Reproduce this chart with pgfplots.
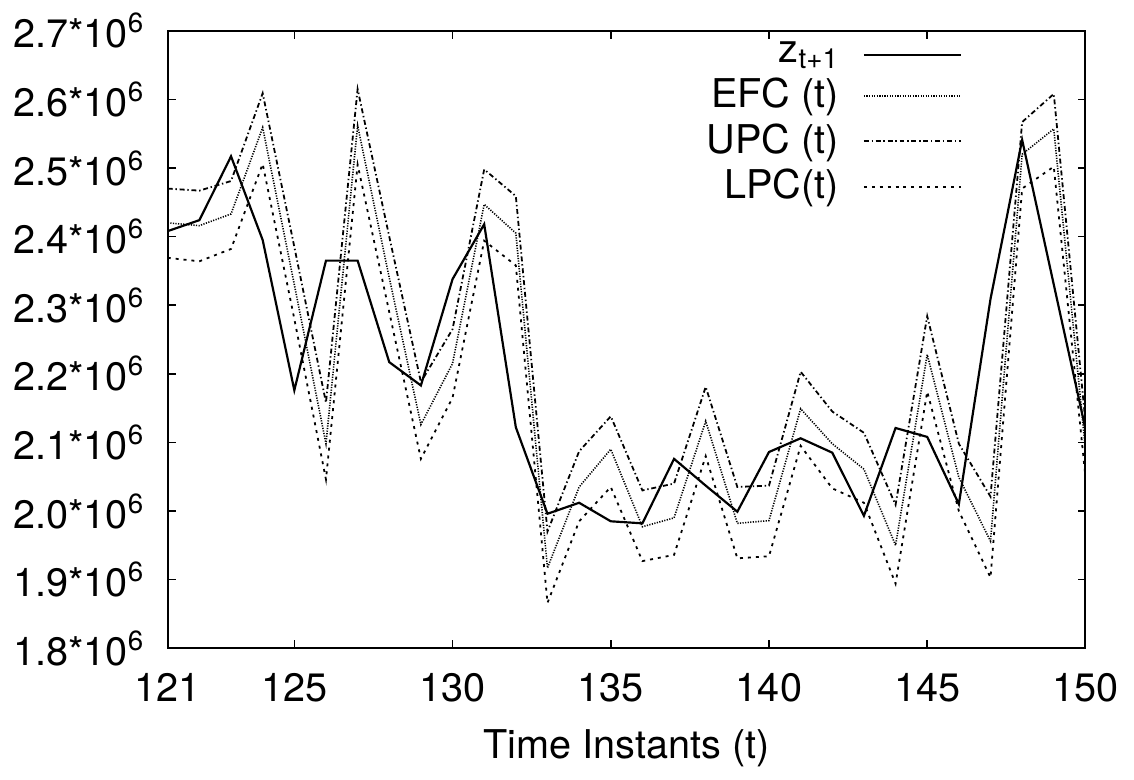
\documentclass[border=0pt]{standalone}
\usepackage{fontspec}
\setmainfont{TeX Gyre Heros}
\usepackage{pgfplots}
\pgfplotsset{compat=1.18}

% values in units of 10^6
\pgfplotstableread{
t    z      efc    upc    lpc
121  2.408  2.420  2.470  2.369
122  2.424  2.416  2.467  2.364
123  2.517  2.433  2.481  2.382
124  2.395  2.559  2.609  2.506
125  2.176  2.330  2.385  2.280
126  2.365  2.098  2.158  2.046
127  2.365  2.562  2.615  2.505
128  2.217  2.340  2.400  2.290
129  2.183  2.126  2.188  2.076
130  2.338  2.215  2.265  2.165
131  2.418  2.447  2.498  2.394
132  2.122  2.405  2.459  2.358
133  1.996  1.917  1.970  1.866
134  2.012  2.035  2.087  1.985
135  1.985  2.090  2.138  2.035
136  1.982  1.977  2.030  1.927
137  2.076  1.990  2.040  1.936
138  2.037  2.131  2.181  2.080
139  1.999  1.982  2.035  1.931
140  2.086  1.986  2.037  1.934
141  2.106  2.149  2.203  2.095
142  2.085  2.098  2.145  2.033
143  1.993  2.061  2.114  2.012
144  2.121  1.950  2.009  1.894
145  2.108  2.228  2.284  2.174
146  2.010  2.049  2.098  2.000
147  2.309  1.956  2.021  1.903
148  2.541  2.520  2.567  2.470
149  2.330  2.557  2.608  2.502
150  2.120  2.090  2.130  2.050
}\data

\begin{document}
\fontsize{20}{24}\selectfont
\begin{tikzpicture}
\begin{axis}[
  scale only axis,
  width=463pt, height=311.5pt,
  xmin=121, xmax=150, ymin=1.8, ymax=2.7,
  xtick={121,125,130,135,140,145,150},
  xticklabels={121,125,130,135,140,145,150},
  ytick={1.8,1.9,2.0,2.1,2.2,2.3,2.4,2.5,2.6,2.7},
  yticklabels={1.8*10\textsuperscript{6},1.9*10\textsuperscript{6},2.0*10\textsuperscript{6},2.1*10\textsuperscript{6},2.2*10\textsuperscript{6},2.3*10\textsuperscript{6},2.4*10\textsuperscript{6},2.5*10\textsuperscript{6},2.6*10\textsuperscript{6},2.7*10\textsuperscript{6}},
  tick align=inside, major tick length=4pt,
  tick style={black, line width=0.8pt},
  axis line style={line width=1pt},
  ticklabel style={font=\fontsize{20}{24}\selectfont},
  xticklabel style={yshift=-6pt},
  yticklabel style={xshift=-5pt},
  xlabel={Time Instants (t)},
  xlabel style={font=\fontsize{20}{24}\selectfont, yshift=0pt},
  legend plot pos=right,
  legend cell align=right,
  legend style={draw=none, fill=none, inner sep=0pt,
    at={(axis description cs:0.866,0.99)}, anchor=north east,
    font=\fontsize{20}{20}\selectfont, row sep=1pt},
  legend image code/.code={\path (0pt,0pt); \draw[#1] (10pt,0pt) -- (59pt,0pt);},
]
\addplot[black, line width=1.1pt] table[x=t, y=z] {\data};
\addlegendentry{z\textsubscript{t+1}}
\addplot[black, line width=0.8pt, dash pattern=on 0.6pt off 0.7pt] table[x=t, y=efc] {\data};
\addlegendentry{EFC (t)}
\addplot[black, line width=0.9pt, dash pattern=on 2.5pt off 1.4pt on 0.7pt off 1.4pt] table[x=t, y=upc] {\data};
\addlegendentry{UPC (t)}
\addplot[black, line width=0.9pt, dash pattern=on 1.5pt off 2.5pt] table[x=t, y=lpc] {\data};
\addlegendentry{LPC(t)}
\end{axis}
\path (current axis.south west) ++(-79.5pt,-57pt) coordinate (bl);
\path (current axis.south west) ++(487.5pt,325.5pt) coordinate (tr);
\path (bl) rectangle (tr);
\end{tikzpicture}
\end{document}
